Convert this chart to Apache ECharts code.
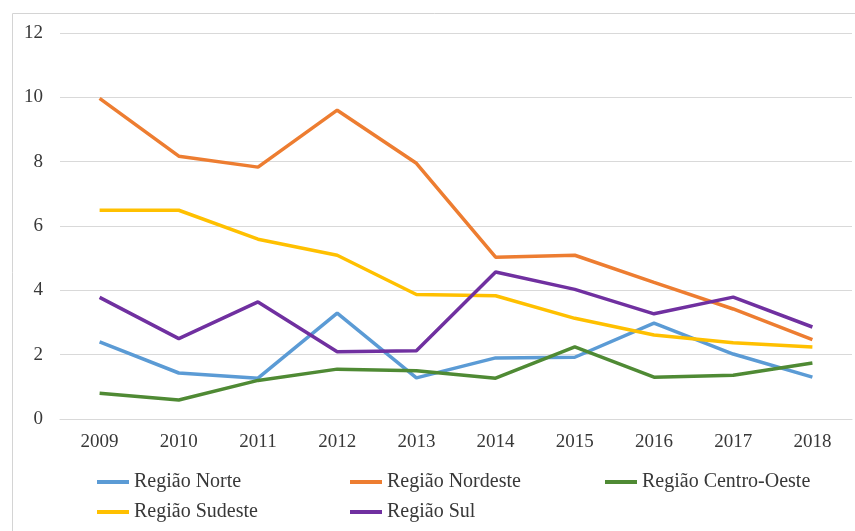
<!DOCTYPE html>
<html lang="pt-BR">
<head>
  <meta charset="UTF-8">
  <title>Regiões 2009-2018</title>
  <script src="https://cdn.jsdelivr.net/npm/echarts@6/dist/echarts.min.js"></script>
  <style>
    html, body { margin: 0; padding: 0; background: #fff; }
    #chart { width: 855px; height: 531px; }
  </style>
</head>
<body>
  <div id="chart"></div>
  <script>
    // dados
    const years = ['2009', '2010', '2011', '2012', '2013', '2014', '2015', '2016', '2017', '2018'];
    const norte = [2.4, 1.43, 1.27, 3.29, 1.28, 1.9, 1.92, 2.98, 2.02, 1.3];
    const nordeste = [9.97, 8.17, 7.83, 9.6, 7.95, 5.03, 5.09, 4.25, 3.42, 2.47];
    const centroOeste = [0.8, 0.59, 1.2, 1.55, 1.5, 1.27, 2.24, 1.3, 1.36, 1.74];
    const sudeste = [6.49, 6.49, 5.59, 5.09, 3.87, 3.83, 3.13, 2.61, 2.37, 2.24];
    const sul = [3.78, 2.5, 3.64, 2.09, 2.12, 4.57, 4.03, 3.27, 3.79, 2.86];
    const yTicks = { min: 0, max: 12, interval: 2 };

    const seriesDefs = [
      { name: 'Região Norte', data: norte, color: '#5B9BD5' },
      { name: 'Região Nordeste', data: nordeste, color: '#ED7D31' },
      { name: 'Região Centro-Oeste', data: centroOeste, color: '#4F8A34' },
      { name: 'Região Sudeste', data: sudeste, color: '#FFC000' },
      { name: 'Região Sul', data: sul, color: '#7030A0' }
    ];
    // posição de cada item da legenda
    const legendPos = [[97, 472], [350, 472], [605, 472], [97, 502], [350, 502]];

    const font = '"Liberation Serif", "Times New Roman", serif';

    const chart = echarts.init(document.getElementById('chart'));
    chart.setOption({
      animation: false,
      color: seriesDefs.map(s => s.color),
      graphic: [{
        type: 'rect',
        shape: { x: 12.5, y: 13.5, width: 900, height: 600 },
        style: { fill: 'none', stroke: '#d4d4d4', lineWidth: 1 },
        silent: true
      }],
      grid: { left: 60, right: 3, top: 33, bottom: 112, containLabel: false },
      legend: seriesDefs.map((s, i) => ({
        data: [{ name: s.name, icon: 'rect' }],
        left: legendPos[i][0],
        top: legendPos[i][1],
        padding: 0,
        itemWidth: 32,
        itemHeight: 4,
        itemGap: 5,
        textStyle: { fontFamily: font, fontSize: 20, color: '#383838', lineHeight: 20 }
      })),
      xAxis: {
        type: 'category',
        data: years,
        boundaryGap: true,
        axisLine: { show: true, lineStyle: { color: '#d9d9d9', width: 1 } },
        axisTick: { show: false },
        axisLabel: { fontFamily: font, fontSize: 19, color: '#383838', margin: 14 }
      },
      yAxis: {
        type: 'value',
        min: yTicks.min,
        max: yTicks.max,
        interval: yTicks.interval,
        axisLine: { show: false },
        axisTick: { show: false },
        axisLabel: { fontFamily: font, fontSize: 19, color: '#383838', margin: 17 },
        splitLine: { lineStyle: { color: '#d9d9d9', width: 1 } }
      },
      series: seriesDefs.map(s => ({
        name: s.name,
        type: 'line',
        data: s.data,
        symbol: 'none',
        lineStyle: { width: 3.5, color: s.color },
        itemStyle: { color: s.color }
      }))
    });
  </script>
</body>
</html>
